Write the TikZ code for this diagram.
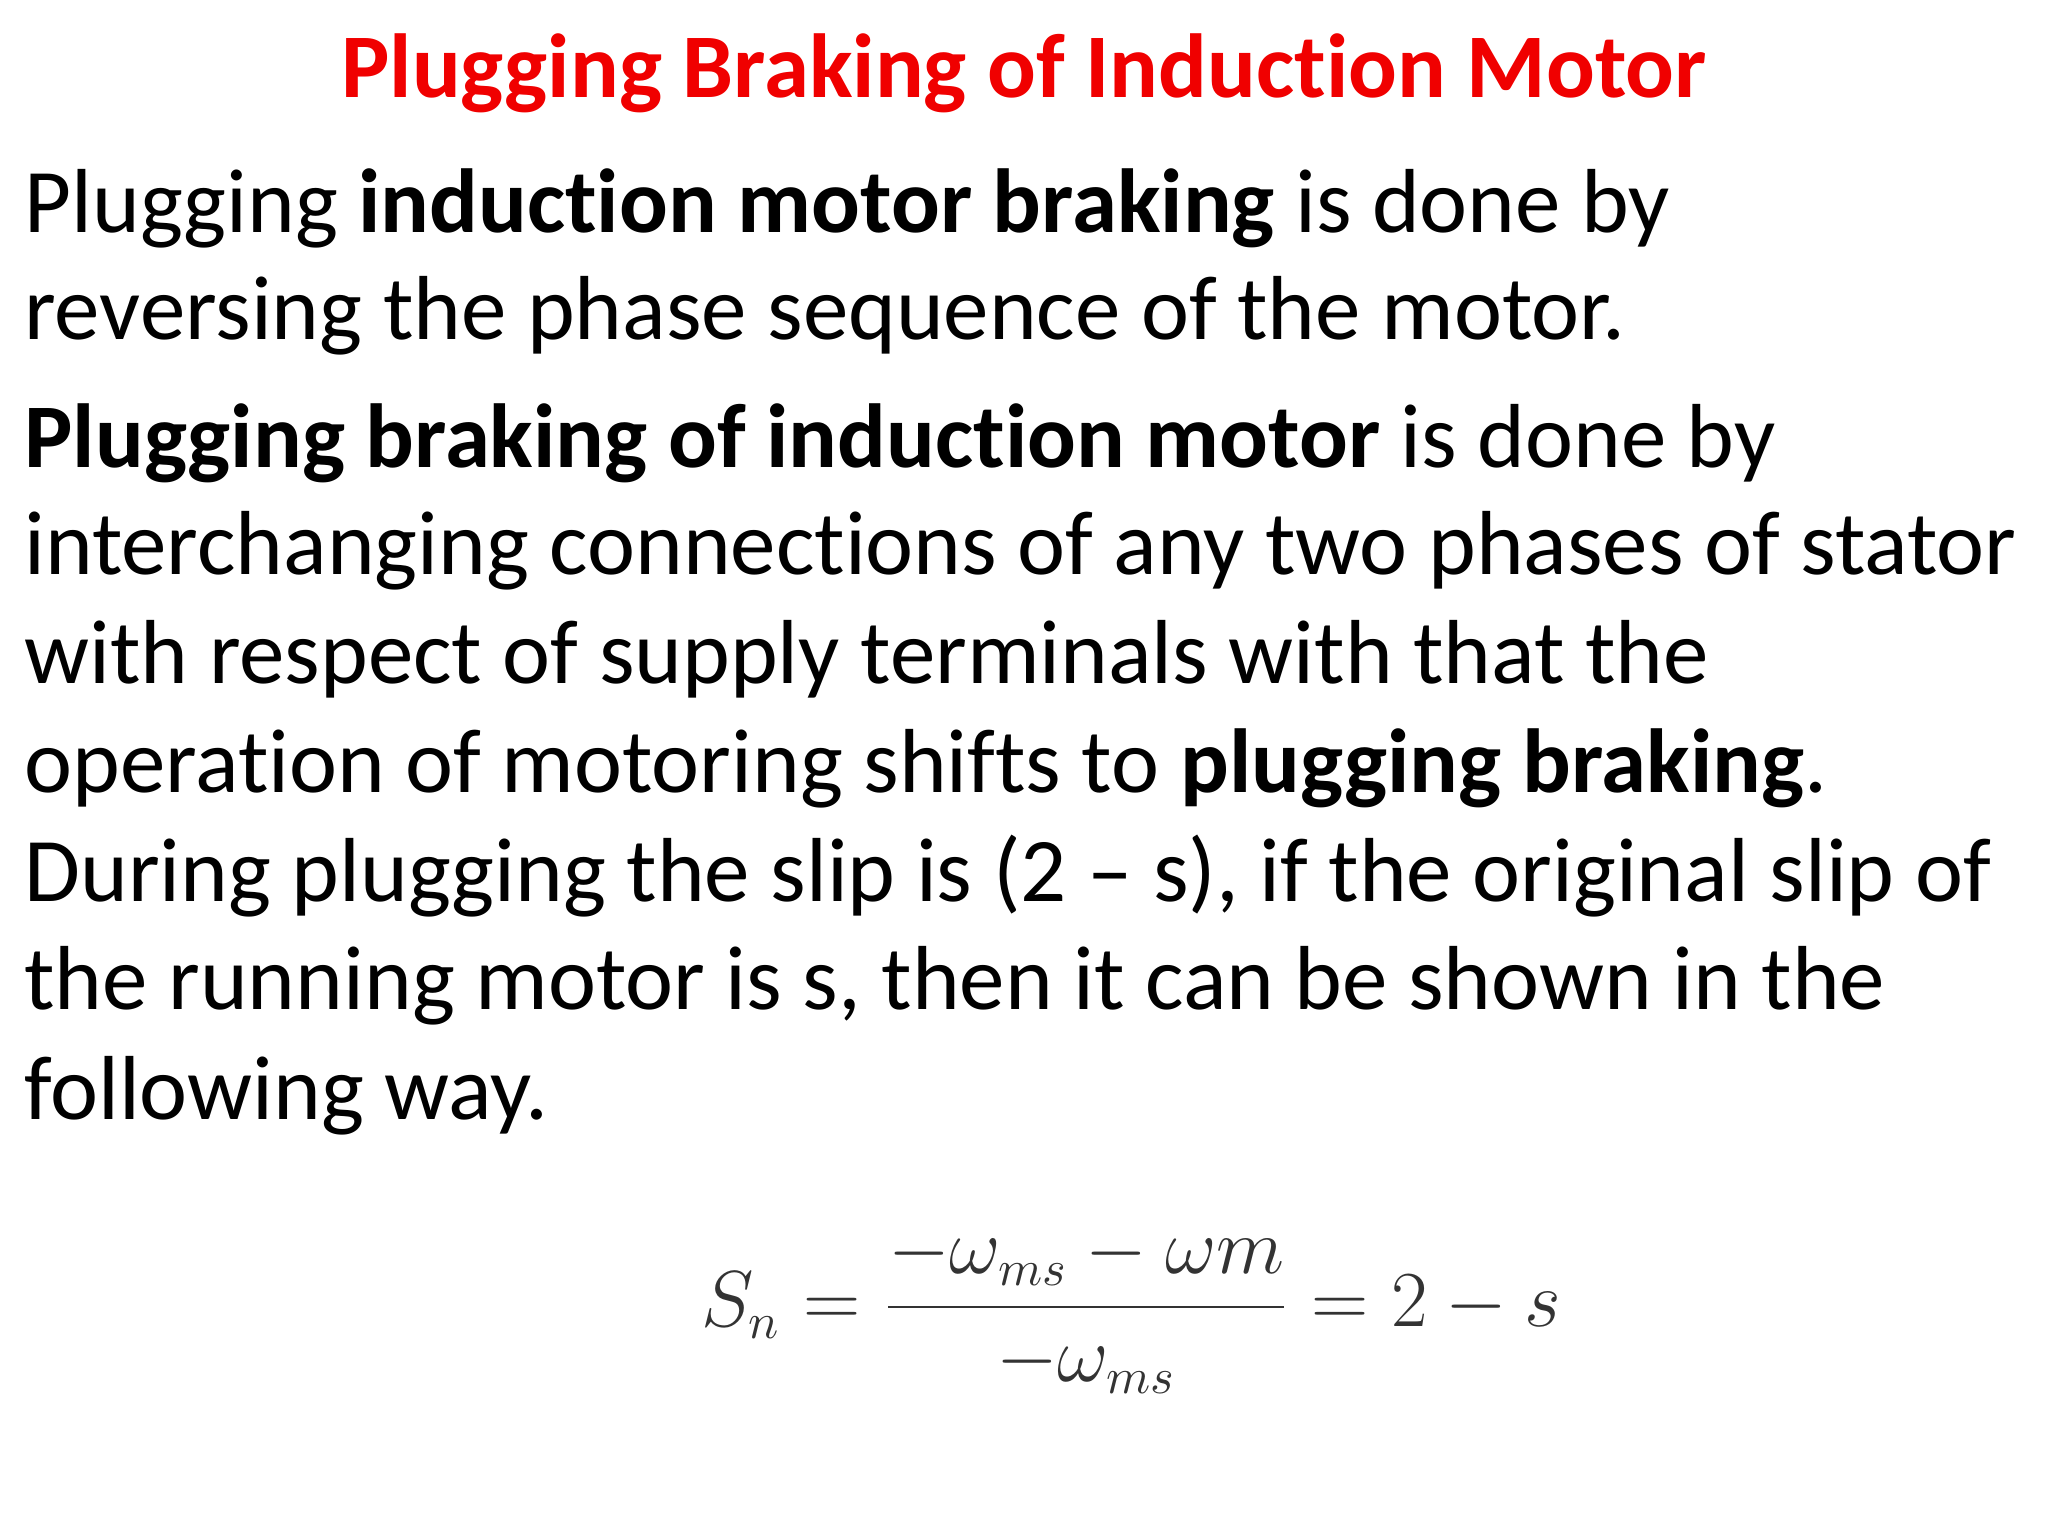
\documentclass[tikz,border=0pt]{standalone}
\usepackage{fontspec}
\setmainfont{Carlito}[Ligatures=NoCommon]
\definecolor{titlered}{RGB}{240,0,0}
\begin{document}
\begin{tikzpicture}[x=0.01cm,y=-0.01cm,
  line/.style={anchor=base west,inner sep=0pt,font=\fontsize{19.8}{21}\selectfont}]
\useasboundingbox (0,0) rectangle (1568,1176);
\node[anchor=base,inner sep=0pt,text=titlered,font=\fontsize{19.8}{22}\selectfont\bfseries] (title) at (784,75) {Plugging Braking of Induction Motor};
\node[line] (l1) at (18,178) {Plugging \textbf{induction motor braking} is done by};
\node[line] (l2) at (18,260) {reversing the phase sequence of the motor.};
\node[line] (l3) at (18,358) {\textbf{Plugging braking of induction motor} is done by};
\node[line] (l4) at (18,440) {interchanging connections of any two phases of stator};
\node[line] (l5) at (18,523) {with respect of supply terminals with that the};
\node[line] (l6) at (18,607) {operation of motoring shifts to \textbf{plugging braking}.};
\node[line] (l7) at (18,690) {During plugging the slip is (2 – s), if the original slip of};
\node[line] (l8) at (18,773) {the running motor is s, then it can be shown in the};
\node[line] (l9) at (18,857) {following way.};
\node[inner sep=0pt,font=\fontsize{16}{19}\selectfont,text=black!80] (eq) at (866,1003)
  {$\displaystyle S_n=\frac{-\omega_{ms}-\omega m}{-\omega_{ms}}=2-s$};
\end{tikzpicture}
\end{document}
